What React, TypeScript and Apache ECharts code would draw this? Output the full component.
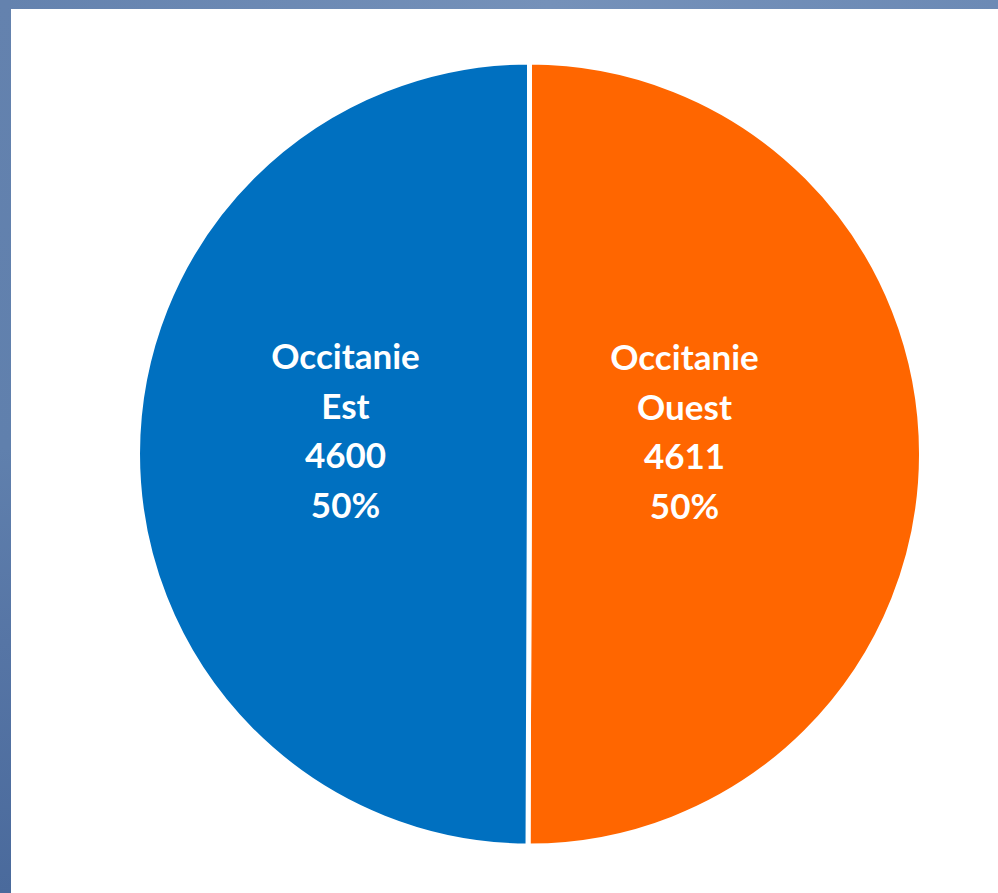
import React, { useEffect, useRef } from "react";
import * as echarts from "echarts";

const names = ["Occitanie\nOuest", "Occitanie\nEst"];
const values = [4611, 4600];
const colors = ["#FF6600", "#0070C0"];

export default function App() {
  const ref = useRef<HTMLDivElement>(null);
  useEffect(() => {
    const chart = echarts.init(ref.current!, null, { renderer: "svg" });
    const labelOffsets = [[-44, -24], [15, -24]];
    chart.setOption({
      animation: false,
      backgroundColor: "#ffffff",
      graphic: [
        {
          type: "rect",
          shape: { x: 0, y: 0, width: 998, height: 9 },
          style: {
            fill: new echarts.graphic.LinearGradient(0, 0, 1, 0, [
              { offset: 0, color: "#6482AE" },
              { offset: 0.55, color: "#7591B9" },
              { offset: 1, color: "#6C8AB5" },
            ]),
          },
          z: 10,
        },
        {
          type: "rect",
          shape: { x: 0, y: 0, width: 11, height: 893 },
          style: {
            fill: new echarts.graphic.LinearGradient(0, 0, 0, 1, [
              { offset: 0, color: "#6482AE" },
              { offset: 0.5, color: "#6080AD" },
              { offset: 0.72, color: "#5675A5" },
              { offset: 1, color: "#4A6A9C" },
            ]),
          },
          z: 10,
        },
      ],
      series: [
        {
          type: "pie",
          center: [529.5, 454],
          radius: ["0%", 392],
          startAngle: 90,
          clockwise: true,
          itemStyle: { borderColor: "#ffffff", borderWidth: 5 },
          label: {
            show: true,
            position: "inside",
            color: "#ffffff",
            fontFamily: "Lato",
            fontWeight: "bold",
            fontSize: 35,
            lineHeight: 49.5,
            formatter: (p: any) => `${p.name}\n${p.value}\n${Math.round(p.percent)}%`,
          },
          labelLine: { show: false },
          data: names.map((n, i) => ({
            name: n,
            value: values[i],
            itemStyle: { color: colors[i] },
            label: { offset: labelOffsets[i] },
          })),
        },
      ],
    });
    return () => chart.dispose();
  }, []);
  return (
    <div
      ref={ref}
      style={{ position: "fixed", left: 0, top: 0, width: 998, height: 893 }}
    />
  );
}
